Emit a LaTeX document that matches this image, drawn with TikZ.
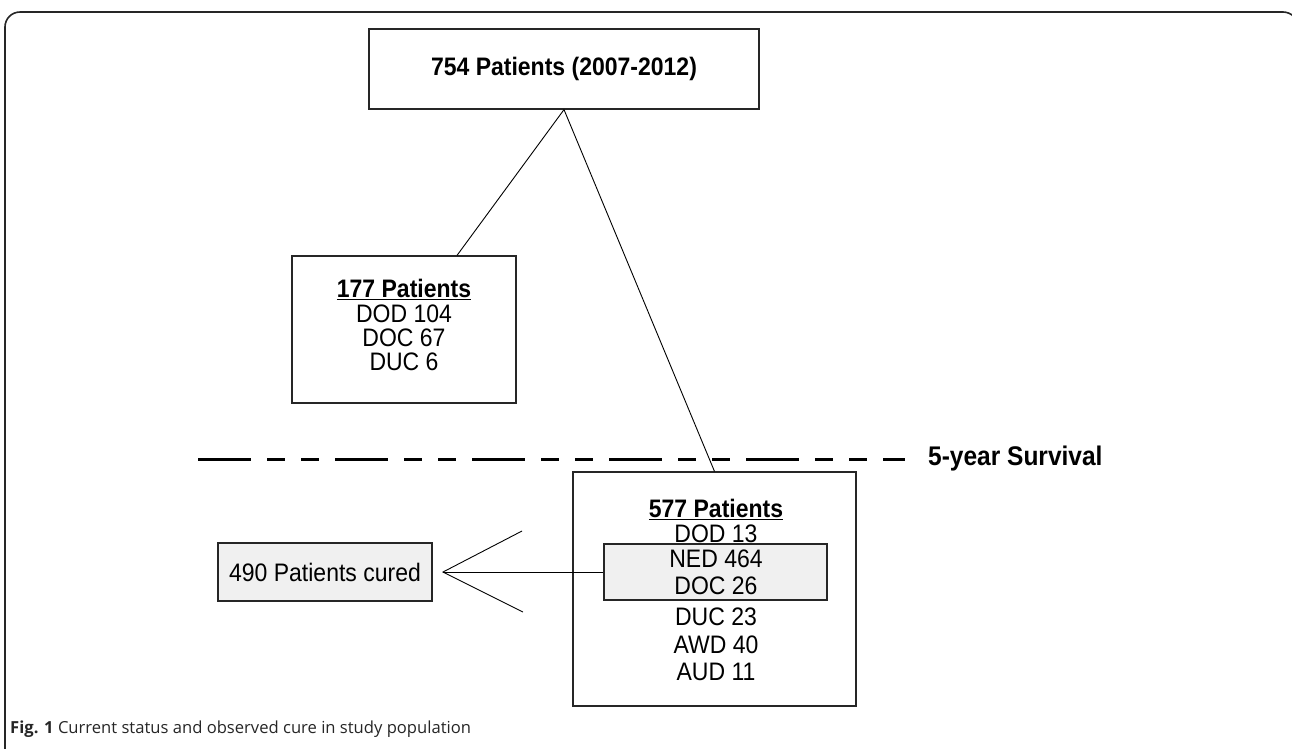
\documentclass[tikz,border=0pt]{standalone}
\usepackage{graphicx}
\usepackage{fontspec}
\setmainfont{Liberation Sans}
\newfontfamily\capfont{Open Sans}
\usetikzlibrary{calc}
\newcommand\tall[1]{\scalebox{1}[1.1]{#1}}
\begin{document}
\begin{tikzpicture}[x=1pt,y=-1pt,
  box/.style={draw=black!85, line width=1.2pt, inner sep=0pt},
  graybox/.style={box, fill=black!6},
  conn/.style={draw=black, line width=0.9pt},
  txt/.style={font=\fontsize{23}{24}\selectfont, inner sep=0pt},
  btxt/.style={font=\fontsize{23}{24}\selectfont\bfseries, inner sep=0pt},
  ln/.style={txt, anchor=base}]
\useasboundingbox (0,0) rectangle (1292,748);
\fill[white] (0,0) rectangle (1292,748);
% frame
\draw[line width=1.6pt, black!85, rounded corners=15pt] (5,760) -- (5,12) -- (1298,12) -- (1298,760);

% top box
\node[box, btxt, minimum width=390pt, minimum height=80pt] (top) at (564,69) {\tall{754 Patients (2007-2012)}};

% 177 box
\node[box, minimum width=224pt, minimum height=147pt] (b177) at (404,329.5) {};
\node[ln] (s177) at (404,297) {\tall{\textbf{\underline{177 Patients}}}};
\node[ln] (dod104) at (404,322) {\tall{DOD 104}};
\node[ln] (doc67) at (404,346) {\tall{DOC 67}};
\node[ln] (duc6) at (404,370) {\tall{DUC 6}};

% 577 box
\node[box, minimum width=283pt, minimum height=234pt] (b577) at (714.5,589) {};
\node[graybox, minimum width=223pt, minimum height=56pt] (g577) at (715.5,572) {};
\node[ln] (s577) at (716,517) {\tall{\textbf{\underline{577 Patients}}}};
\node[ln] (dod13) at (716,542) {\tall{DOD 13}};
\node[ln] (ned464) at (716,567) {\tall{NED 464}};
\node[ln] (doc26) at (716,594) {\tall{DOC 26}};
\node[ln] (duc23) at (716,625) {\tall{DUC 23}};
\node[ln] (awd40) at (716,653) {\tall{AWD 40}};
\node[ln] (aud11) at (716,680) {\tall{AUD 11}};

% cured box
\node[graybox, txt, minimum width=214pt, minimum height=58pt] (cured) at (325,572) {\tall{490 Patients cured}};

% connectors
\draw[conn] (top.south) -- ([xshift=53pt]b177.north);
\draw[conn] (top.south) -- (b577.north);
\coordinate (tip) at (443,572);
\coordinate (armU) at (522,531);
\coordinate (armL) at (523,612);
\draw[conn] (g577.west) -- (tip);
\draw[conn] (armU) -- (tip) -- (armL);

% survival line
\coordinate (dashA) at (198,459);
\coordinate (dashB) at (905,459);
\draw[line width=3pt, dash pattern=on 53pt off 16pt on 18pt off 16pt on 18pt off 16pt] (dashA) -- (dashB);
\node[anchor=west, inner sep=0pt, font=\fontsize{24.5}{26}\selectfont\bfseries] (surv) at (928,459) {\tall{5-year Survival}};

% caption
\node[anchor=base west, inner sep=0pt, font=\capfont\fontsize{16.6}{18}\selectfont, text=black!85] (cap) at (10,733) {\textbf{Fig. 1} Current status and observed cure in study population};
\end{tikzpicture}
\end{document}
